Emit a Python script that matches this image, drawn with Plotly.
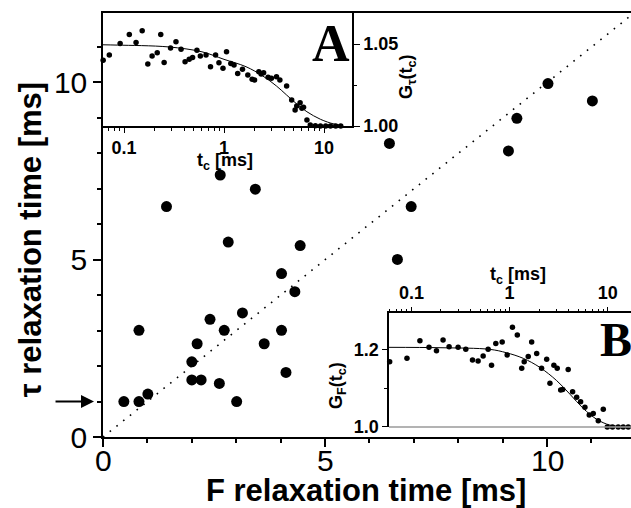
import plotly.graph_objects as go

# ---------------- main scatter data ----------------
F_time = [2.64, 3.43, 1.43, 6.94, 2.82, 4.44, 6.63, 4.02, 4.32, 3.14, 2.41, 0.81, 2.73, 4.02,
          2.12, 3.63, 2.00, 2.00, 2.21, 2.62, 4.12, 3.01, 0.81, 1.01, 0.47, 10.02, 11.02, 9.32,
          9.13, 6.45]
tau_time = [7.39, 6.99, 6.50, 6.50, 5.50, 5.40, 5.01, 4.61, 4.10, 3.50, 3.32, 3.01, 3.01, 3.01,
            2.63, 2.63, 2.12, 1.61, 1.61, 1.51, 1.82, 1.00, 1.00, 1.21, 1.00, 9.97, 9.48, 8.99,
            8.07, 8.28]
diag = [0, 12]

# ---------------- inset A (G_tau) ----------------
tA_fit = [0.06, 0.0859, 0.277, 0.602, 1.0, 1.66, 2.45, 3.35, 4.23, 5.35, 6.75, 9.21, 12.6, 15.3]
GA_fit = [1.0496, 1.0494, 1.0483, 1.0453, 1.0407, 1.0362, 1.0305, 1.0244, 1.0189, 1.0134,
          1.0087, 1.0041, 1.0012, 1.0004]
tA = [0.0619, 0.0713, 0.0915, 0.113, 0.132, 0.152, 0.173, 0.191, 0.215, 0.233, 0.252, 0.292,
      0.331, 0.372, 0.408, 0.449, 0.485, 0.536, 0.580, 0.661, 0.733, 0.824, 0.890, 0.977, 1.06,
      1.17, 1.26, 1.37, 1.53, 1.73, 1.91, 2.02, 2.23, 2.35, 2.49, 2.76, 2.98, 3.35, 3.62, 4.23,
      4.75, 5.14, 5.34, 5.77, 6.24, 6.01, 6.75, 7.29, 8.20, 9.21, 10.4, 11.6, 13.1, 14.7]
GA = [1.0402, 1.0433, 1.0504, 1.0559, 1.0510, 1.0581, 1.0378, 1.0427, 1.0447, 1.0559, 1.0388,
      1.0477, 1.0514, 1.0468, 1.0392, 1.0407, 1.0419, 1.0463, 1.0427, 1.0433, 1.0362, 1.0433,
      1.0386, 1.0352, 1.0453, 1.0382, 1.0372, 1.0321, 1.0346, 1.0311, 1.0285, 1.0281, 1.0331,
      1.0317, 1.0325, 1.0297, 1.0291, 1.0301, 1.0281, 1.0244, 1.0159, 1.0098, 1.0122, 1.0142,
      1.0114, 1.0108, 1.0037, 1.0006, 1.0002, 1.0, 1.0, 1.0, 1.0, 1.0]

# ---------------- inset B (G_F) ----------------
tB_fit = [0.059, 0.2, 0.63, 0.93, 1.38, 2.04, 3.02, 4.12, 5.64, 7.72, 10.5, 14.4, 17.3]
GB_fit = [1.206, 1.205, 1.2008, 1.192, 1.1775, 1.154, 1.120, 1.085, 1.048, 1.020, 1.005, 1.001, 1.0]
tB = [0.060, 0.090, 0.122, 0.151, 0.180, 0.210, 0.242, 0.299, 0.358, 0.419, 0.478, 0.538, 0.605,
      0.655, 0.724, 0.841, 0.946, 1.07, 1.20, 1.33, 1.41, 1.55, 1.68, 1.89, 2.12, 2.39, 2.58,
      2.83, 3.06, 3.32, 3.48, 3.96, 4.39, 4.83, 5.30, 5.86, 6.49, 7.13, 8.02, 9.02, 9.91, 11.2,
      12.8, 14.4, 16.2]
GB = [1.169, 1.1775, 1.223, 1.206, 1.197, 1.225, 1.2075, 1.206, 1.201, 1.173, 1.171, 1.1835,
      1.201, 1.160, 1.216, 1.220, 1.186, 1.258, 1.238, 1.152, 1.169, 1.182, 1.220, 1.190, 1.152,
      1.175, 1.113, 1.160, 1.152, 1.096, 1.097, 1.149, 1.091, 1.077, 1.065, 1.051, 1.031, 1.035,
      1.016, 1.046, 1.0, 1.0, 1.0, 1.0, 1.0]

main_ticks = [0, 5, 10]
main_ticktext = ["0", "5", "10"]
log_ticks = [0.1, 1, 10]
log_ticktext = ["<b>0.1</b>", "<b>1</b>", "<b>10</b>"]
log_minor = [0.06, 0.07, 0.08, 0.09, 0.2, 0.3, 0.4, 0.5, 0.6, 0.7, 0.8, 0.9,
             2, 3, 4, 5, 6, 7, 8, 9, 20]

SANS = "Liberation Sans, Arial, sans-serif"
SERIF = "Liberation Serif, Times New Roman, serif"

fig = go.Figure()

fig.add_trace(go.Scatter(x=diag, y=diag, mode="lines",
                         line=dict(color="black", width=1.6, dash="1.6px,7px"),
                         xaxis="x", yaxis="y", hoverinfo="skip"))
fig.add_trace(go.Scatter(x=F_time, y=tau_time, mode="markers",
                         marker=dict(color="black", size=11),
                         xaxis="x", yaxis="y", cliponaxis=False))

fig.add_trace(go.Scatter(x=tA_fit, y=GA_fit, mode="lines", line=dict(color="black", width=1, shape="spline"),
                         xaxis="x2", yaxis="y2", cliponaxis=False))
fig.add_trace(go.Scatter(x=tA, y=GA, mode="markers", marker=dict(color="black", size=5.5),
                         xaxis="x2", yaxis="y2", cliponaxis=False))

fig.add_trace(go.Scatter(x=tB_fit, y=GB_fit, mode="lines", line=dict(color="black", width=1, shape="spline"),
                         xaxis="x3", yaxis="y3", cliponaxis=False))
fig.add_trace(go.Scatter(x=tB, y=GB, mode="markers", marker=dict(color="black", size=5.5),
                         xaxis="x3", yaxis="y3", cliponaxis=False))

axis_common = dict(showgrid=False, zeroline=False, showline=True, linecolor="black",
                   ticks="outside", tickcolor="black")

fig.update_layout(
    width=631, height=508,
    margin=dict(l=103, r=0, t=13, b=71),
    paper_bgcolor="white", plot_bgcolor="white",
    showlegend=False,
    xaxis=dict(**axis_common, range=[0, 11.89], domain=[0, 1], anchor="y",
               tickvals=main_ticks, ticklen=8, tickwidth=1.5, linewidth=1.5, mirror=True,
               showticklabels=False,
               minor=dict(dtick=1, ticks="outside", ticklen=4, tickcolor="black")),
    yaxis=dict(**axis_common, range=[0, 11.96], domain=[0, 1], anchor="x",
               tickvals=main_ticks, ticklen=8, tickwidth=1.5, linewidth=1.5,
               tickfont=dict(family=SANS, size=30, color="black"),
               minor=dict(dtick=1, ticks="outside", ticklen=4, tickcolor="black")),
    xaxis2=dict(**axis_common, type="log", range=[-1.21, 1.28], domain=[0, 0.4716], anchor="y2",
                tickvals=log_ticks, ticktext=log_ticktext, ticklen=5, linewidth=1.5,
                tickfont=dict(family=SANS, size=18, color="black"),
                minor=dict(tickvals=log_minor, ticks="outside", ticklen=3, tickcolor="black")),
    yaxis2=dict(**axis_common, range=[1.0, 1.069], domain=[0.7335, 1.0], anchor="x2", side="right",
                tickvals=[1.0, 1.05], ticktext=["<b>1.00</b>", "<b>1.05</b>"], ticklen=6, linewidth=1.5,
                tickfont=dict(family=SANS, size=18, color="black"),
                minor=dict(tickvals=[1.025], ticks="outside", ticklen=3, tickcolor="black")),
    xaxis3=dict(**axis_common, type="log", range=[-1.2286, 1.2378], domain=[0.5417, 1.0], anchor="y3",
                side="top", tickvals=log_ticks, ticktext=log_ticktext, ticklen=5, linewidth=1.5,
                tickfont=dict(family=SANS, size=18, color="black"),
                minor=dict(tickvals=log_minor, ticks="outside", ticklen=3, tickcolor="black")),
    yaxis3=dict(**axis_common, range=[1.0, 1.294], domain=[0.0236, 0.2917], anchor="x3", side="left",
                tickvals=[1.0, 1.2], ticktext=["<b>1.0</b>", "<b>1.2</b>"], ticklen=5, linewidth=1.5,
                tickfont=dict(family=SANS, size=18, color="black"),
                minor=dict(tickvals=[1.1], ticks="outside", ticklen=3, tickcolor="black")),
)

fig.add_shape(type="line", xref="paper", yref="paper", x0=0.5417, x1=1.0, y0=0.0236, y1=0.0236,
              line=dict(color="#9a9a9a", width=1.5))

# main x tick labels placed at the tick positions of the main x axis
for v, t in zip(main_ticks, main_ticktext):
    fig.add_annotation(xref="x", yref="paper", x=v, y=-0.0545, text=t, showarrow=False,
                       xanchor="center", yanchor="middle",
                       font=dict(family=SANS, size=30, color="black"))

ann = [
    dict(text="<b>A</b>", x=0.4318, y=0.929, font=dict(family=SERIF, size=52, color="black")),
    dict(text="<b>B</b>", x=0.9716, y=0.2288, font=dict(family=SERIF, size=48, color="black")),
    dict(text="<b>t<sub>c</sub> [ms]</b>", x=0.2311, y=0.6486, font=dict(family=SANS, size=18, color="black")),
    dict(text="<b>G<sub>τ</sub>(t<sub>c</sub>)</b>", x=0.5758, y=0.849, textangle=-90,
         font=dict(family=SANS, size=18, color="black")),
    dict(text="<b>t<sub>c</sub> [ms]</b>", x=0.786, y=0.380, font=dict(family=SANS, size=18, color="black")),
    dict(text="<b>G<sub>F</sub>(t<sub>c</sub>)</b>", x=0.443, y=0.1226, textangle=-90,
         font=dict(family=SANS, size=18, color="black")),
    dict(text="<b>F relaxation time [ms]</b>", x=0.498, y=-0.127, font=dict(family=SANS, size=31, color="black")),
    dict(text="<b>τ relaxation time [ms]</b>", x=-0.138, y=0.4646, textangle=-90,
         font=dict(family=SANS, size=31, color="black")),
]
for a in ann:
    fig.add_annotation(xref="paper", yref="paper", showarrow=False, xanchor="center", yanchor="middle", **a)

# arrow pointing at tau = 1 ms
fig.add_annotation(xref="paper", yref="y", x=-0.017, y=1.0, ax=-40, ay=0, text="",
                   showarrow=True, arrowhead=2, arrowsize=1.3, arrowwidth=2, arrowcolor="black")

fig.write_html("out.html")
